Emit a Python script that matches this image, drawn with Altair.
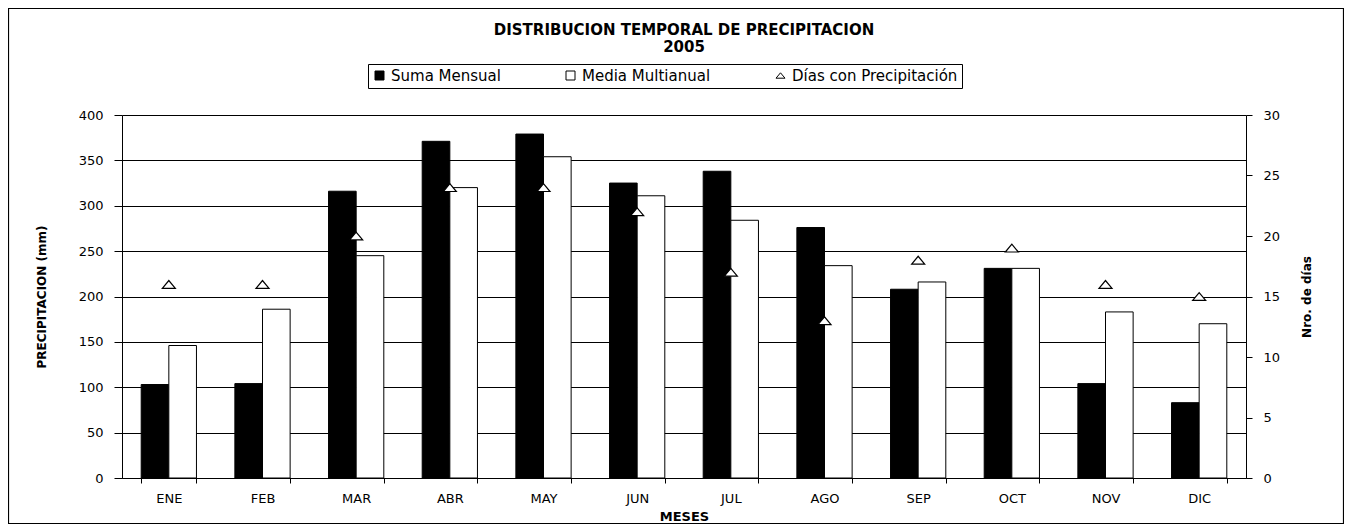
import altair as alt
import pandas as pd

# ---- data ----
meses = ["ENE", "FEB", "MAR", "ABR", "MAY", "JUN", "JUL", "AGO", "SEP", "OCT", "NOV", "DIC"]
suma_mensual = [103, 104, 316, 371, 379, 325, 338, 276, 208, 231, 104, 83]
media_multianual = [146, 186, 245, 320, 354, 311, 284, 234, 216, 231, 183, 170]
dias_precipitacion = [16, 16, 20, 24, 24, 22, 17, 13, 18, 19, 16, 15]

series = ["Suma Mensual", "Media Multianual", "Días con Precipitación"]
left_ticks = [0, 50, 100, 150, 200, 250, 300, 350, 400]
right_ticks = [0, 5, 10, 15, 20, 25, 30]

bars_df = pd.DataFrame({
    "mes": meses * 2,
    "serie": [series[0]] * len(meses) + [series[1]] * len(meses),
    "valor": suma_mensual + media_multianual,
})
pts_df = pd.DataFrame({"mes": meses, "serie": [series[2]] * len(meses), "dias": dias_precipitacion})
frame_df = pd.DataFrame({"k": [0]})

FONT = "DejaVu Sans"
W, H = 1124, 363
PAD = {"left": 114, "top": 107, "right": 98, "bottom": 46}

tri = "M-1,0.6L1,0.6L0,-0.6Z"
fill_scale = alt.Scale(domain=series, range=["black", "white", "white"])
shape_scale = alt.Scale(domain=series, range=["square", "square", tri])

legend = alt.Legend(
    title=None, orient="none", legendX=246, legendY=-51, direction="horizontal",
    strokeColor="black", padding=4, fillColor="white",
    symbolStrokeColor="black", symbolStrokeWidth=1, symbolSize=81,
    labelFont=FONT, labelFontSize=15, labelColor="black", labelLimit=400,
    columnPadding=62, labelOffset=4, gridAlign="none",
)

x_enc = alt.X(
    "mes:N", sort=meses,
    scale=alt.Scale(paddingInner=0.41, paddingOuter=0.205),
    axis=alt.Axis(
        title="MESES", tickBand="extent", labelAngle=0, tickSize=5, tickColor="black",
        domainColor="black", labelFont=FONT, labelFontSize=13, labelColor="black",
        labelPadding=9, titleFont=FONT, titleFontSize=13, titleFontWeight="bold",
        titleColor="black", titlePadding=5,
    ),
)

frame = alt.Chart(frame_df).mark_rect(
    fill="white", fillOpacity=0, stroke="black", strokeWidth=1.2
).encode(
    x=alt.value(-113.5), x2=alt.value(1221.5), y=alt.value(-106.5), y2=alt.value(408.5)
)

bars = alt.Chart(bars_df).mark_bar(stroke="black", strokeWidth=1).encode(
    x=x_enc,
    xOffset=alt.XOffset("serie:N", sort=series[:2], scale=alt.Scale(paddingInner=0, paddingOuter=0)),
    y=alt.Y(
        "valor:Q", scale=alt.Scale(domain=[0, 400], nice=False),
        axis=alt.Axis(
            orient="left", values=left_ticks, title="PRECIPITACION (mm)",
            grid=True, gridColor="black", gridWidth=1, gridOpacity=1,
            domainColor="black", tickColor="black", tickSize=8,
            labelFont=FONT, labelFontSize=13, labelColor="black", labelPadding=11,
            titleFont=FONT, titleFontSize=12, titleFontWeight="bold", titleColor="black",
            titlePadding=30,
        ),
    ),
    fill=alt.Fill("serie:N", scale=fill_scale, legend=legend),
)

points = alt.Chart(pts_df).mark_point(
    filled=True, stroke="black", strokeWidth=1.2, size=169, opacity=1
).encode(
    x=alt.X("mes:N", sort=meses),
    y=alt.Y(
        "dias:Q", scale=alt.Scale(domain=[0, 30], nice=False),
        axis=alt.Axis(
            orient="right", values=right_ticks, title="Nro. de días", grid=False,
            domainColor="black", tickColor="black", tickSize=6,
            labelFont=FONT, labelFontSize=13, labelColor="black", labelPadding=11,
            titleFont=FONT, titleFontSize=12, titleFontWeight="bold", titleColor="black",
            titleAngle=270, titlePadding=34,
        ),
    ),
    fill=alt.Fill("serie:N", scale=fill_scale, legend=legend),
    shape=alt.Shape("serie:N", scale=shape_scale, legend=legend),
)

chart = (
    alt.layer(frame, bars, points)
    .resolve_scale(y="independent")
    .properties(
        width=W, height=H, padding=PAD,
        autosize=alt.AutoSizeParams(type="none"),
        background="white",
        title=alt.TitleParams(
            text=["DISTRIBUCION TEMPORAL DE PRECIPITACION", "2005"],
            font=FONT, fontSize=15, fontWeight="bold", color="black",
            anchor="middle", lineHeight=17, offset=-47,
        ),
    )
    .configure_view(stroke=None)
)

chart.save("out.html", embed_options={"renderer": "svg", "actions": False})
